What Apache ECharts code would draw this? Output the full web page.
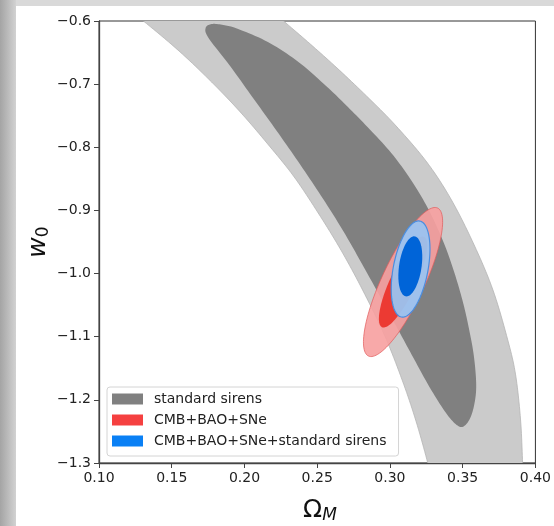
<!DOCTYPE html>
<html><head><meta charset="utf-8">
<script src="https://cdn.jsdelivr.net/npm/echarts@6/dist/echarts.min.js"></script>
<style>html,body{margin:0;padding:0;background:#d9d9d9}#c{width:554px;height:526px}</style>
</head><body><div id="c"></div>
<script>
// ---- data (Omega_M, w0) ----
const xTickValues = [0.10, 0.15, 0.20, 0.25, 0.30, 0.35, 0.40];
const xTickLabels = ['0.10', '0.15', '0.20', '0.25', '0.30', '0.35', '0.40'];
const yTickValues = [-1.3, -1.2, -1.1, -1.0, -0.9, -0.8, -0.7, -0.6];
const yTickLabels = ['\u22121.3', '\u22121.2', '\u22121.1', '\u22121.0', '\u22120.9', '\u22120.8', '\u22120.7', '\u22120.6'];
const legendNames = ['standard sirens', 'CMB+BAO+SNe', 'CMB+BAO+SNe+standard sirens'];

// standard sirens 2-sigma band outline (runs past the axes, clipped)
const sirens2Sigma = [
  [0.1126, -0.5683], [0.1305, -0.6000], [0.1550, -0.6475], [0.1774, -0.6966], [0.1971, -0.7441],
  [0.2154, -0.7932], [0.2337, -0.8455], [0.2507, -0.9041], [0.2663, -0.9627], [0.2812, -1.0260],
  [0.2962, -1.0973], [0.3084, -1.1686], [0.3179, -1.2335], [0.3260, -1.3000], [0.3304, -1.3428],
  [0.3919, -1.3428], [0.3912, -1.3000], [0.3898, -1.2319], [0.3864, -1.1606], [0.3810, -1.1052],
  [0.3708, -1.0260], [0.3579, -0.9548], [0.3423, -0.8835], [0.3253, -0.8233], [0.3036, -0.7647],
  [0.2839, -0.7188], [0.2636, -0.6744], [0.2452, -0.6364], [0.2269, -0.6000], [0.2113, -0.5683]
];
// standard sirens 1-sigma region outline
const sirens1Sigma = [
  [0.1774, -0.6048], [0.1733, -0.6111], [0.1753, -0.6269], [0.1896, -0.6697], [0.2059, -0.7219],
  [0.2222, -0.7742], [0.2385, -0.8281], [0.2541, -0.8819], [0.2683, -0.9342], [0.2812, -0.9864],
  [0.2934, -1.0371], [0.3050, -1.0862], [0.3158, -1.1321], [0.3260, -1.1749], [0.3348, -1.2081],
  [0.3423, -1.2319], [0.3491, -1.2430], [0.3545, -1.2319], [0.3579, -1.2081], [0.3593, -1.1765],
  [0.3576, -1.1290], [0.3538, -1.0815], [0.3498, -1.0419], [0.3437, -0.9943], [0.3362, -0.9468],
  [0.3260, -0.8962], [0.3145, -0.8518], [0.3009, -0.8090], [0.2846, -0.7679], [0.2697, -0.7330],
  [0.2561, -0.7029], [0.2371, -0.6649], [0.2161, -0.6333], [0.1957, -0.6127], [0.1855, -0.6063]
];
// ellipses: [centre Omega_M, centre w0, half major axis dOmega_M, half major axis dw0, minor/major ratio]
const cbs2Sigma = [0.3090, -1.0134, 0.02376, 0.1172, 0.261];
const cbs1Sigma = [0.3090, -1.0134, 0.01449, 0.0715, 0.261];
const all2Sigma = [0.3142, -0.9928, 0.00635, 0.0760, 0.355];
const all1Sigma = [0.3140, -0.9886, 0.00305, 0.0475, 0.37];

// closed Catmull-Rom outline through the given pixel points
function smoothOutline(px) {
  const n = px.length, out = [];
  for (let i = 0; i < n; i++) {
    const p0 = px[(i - 1 + n) % n], p1 = px[i], p2 = px[(i + 1) % n], p3 = px[(i + 2) % n];
    for (let k = 0; k < 10; k++) {
      const t = k / 10, t2 = t * t, t3 = t2 * t;
      out.push([0, 1].map(j => 0.5 * (2 * p1[j] + (-p0[j] + p2[j]) * t +
        (2 * p0[j] - 5 * p1[j] + 4 * p2[j] - p3[j]) * t2 + (-p0[j] + 3 * p1[j] - 3 * p2[j] + p3[j]) * t3)));
    }
  }
  return out;
}
function regionSeries(name, points, fill, stroke) {
  return {
    type: 'custom', name: name, data: points, encode: { x: 0, y: 1 }, silent: true,
    renderItem: function (params, api) {
      if (params.dataIndex !== 0) return null;
      const cs = params.coordSys;
      return {
        type: 'polygon',
        shape: { points: smoothOutline(points.map(p => api.coord(p))) },
        style: { fill: fill, stroke: stroke, lineWidth: stroke ? 0.8 : 0 },
        clipPath: { type: 'rect', shape: { x: cs.x, y: cs.y, width: cs.width, height: cs.height } }
      };
    }
  };
}
function ellipseSeries(name, params5, fill, stroke, lw) {
  return {
    type: 'custom', name: name, data: [params5], encode: { x: 0, y: 1 }, silent: true,
    renderItem: function (params, api) {
      const cx = api.value(0), cy = api.value(1), dx = api.value(2), dy = api.value(3), r = api.value(4);
      const c = api.coord([cx, cy]);
      const e = api.coord([cx + dx, cy + dy]);
      const ux = e[0] - c[0], uy = e[1] - c[1];
      const vx = -uy * r, vy = ux * r;
      const pts = [];
      for (let i = 0; i < 120; i++) {
        const t = i / 120 * 2 * Math.PI;
        pts.push([c[0] + ux * Math.cos(t) + vx * Math.sin(t), c[1] + uy * Math.cos(t) + vy * Math.sin(t)]);
      }
      return { type: 'polygon', shape: { points: pts }, style: { fill: fill, stroke: stroke || null, lineWidth: lw || 0 } };
    }
  };
}

const chart = echarts.init(document.getElementById('c'));
const FONT = 'DejaVu Sans';
chart.setOption({
  animation: false,
  backgroundColor: '#d9d9d9',
  graphic: [
    { type: 'rect', z: -10, shape: { x: 0, y: 0, width: 16, height: 526 },
      style: { fill: new echarts.graphic.LinearGradient(0, 0, 1, 0, [{ offset: 0, color: '#a4a4a4' }, { offset: 1, color: '#d2d2d2' }]) } },
    { type: 'rect', z: -10, shape: { x: 16, y: 6, width: 538, height: 520 }, style: { fill: '#ffffff' } },
    { type: 'text', z: 100, x: 38, y: 242, rotation: Math.PI / 2,
      style: { text: '{w|w}{s|0}', align: 'center', verticalAlign: 'middle',
        rich: { w: { fontFamily: FONT, fontSize: 25, fontStyle: 'italic', fill: '#111', lineHeight: 28 },
                s: { fontFamily: FONT, fontSize: 17, fill: '#111', lineHeight: 17, verticalAlign: 'bottom' } } } },
    { type: 'text', z: 100, x: 320, y: 510,
      style: { text: '{o|\u03A9}{m|M}', align: 'center', verticalAlign: 'middle',
        rich: { o: { fontFamily: FONT, fontSize: 25, fill: '#111', lineHeight: 28 },
                m: { fontFamily: FONT, fontSize: 17, fontStyle: 'italic', fill: '#111', lineHeight: 17, verticalAlign: 'bottom' } } } }
  ],
  grid: { left: 99, top: 21, width: 442, height: 442, show: true, borderColor: '#333', borderWidth: 1, backgroundColor: 'transparent' },
  xAxis: {
    type: 'value', min: 0.10, max: 0.40, interval: 0.05,
    axisLine: { show: true, onZero: false, lineStyle: { color: '#444', width: 1.3 } },
    axisTick: { show: true, length: 5, lineStyle: { color: '#444' } },
    splitLine: { show: false },
    axisLabel: { margin: 8, fontFamily: FONT, fontSize: 14, color: '#222', showMaxLabel: true, showMinLabel: true,
      formatter: v => { const i = xTickValues.findIndex(t => Math.abs(t - v) < 1e-6); return i >= 0 ? xTickLabels[i] : ''; } }
  },
  yAxis: {
    type: 'value', min: -1.3, max: -0.6, interval: 0.1,
    axisLine: { show: true, onZero: false, lineStyle: { color: '#444', width: 1.3 } },
    axisTick: { show: true, length: 5, lineStyle: { color: '#444' } },
    splitLine: { show: false },
    axisLabel: { margin: 8, fontFamily: FONT, fontSize: 14, color: '#222', showMaxLabel: true, showMinLabel: true,
      formatter: v => { const i = yTickValues.findIndex(t => Math.abs(t - v) < 1e-6); return i >= 0 ? yTickLabels[i] : ''; } }
  },
  legend: {
    left: 107, top: 387, orient: 'vertical', itemWidth: 31, itemHeight: 11, itemGap: 7,
    padding: [5, 12, 8, 5], backgroundColor: 'rgba(255,255,255,0.8)', borderColor: '#d4d4d4', borderWidth: 1, borderRadius: 3,
    selectedMode: false, icon: 'rect',
    textStyle: { fontFamily: FONT, fontSize: 14, color: '#222', padding: [0, 0, 0, 6] },
    data: [
      { name: legendNames[0], itemStyle: { color: '#808080' } },
      { name: legendNames[1], itemStyle: { color: '#f54040' } },
      { name: legendNames[2], itemStyle: { color: '#0a80f5' } }
    ]
  },
  series: [
    regionSeries('sirens2', sirens2Sigma, '#cbcbcb', '#b5b5b5'),
    regionSeries(legendNames[0], sirens1Sigma, '#808080', null),
    ellipseSeries('cbs2', cbs2Sigma, 'rgba(247,160,160,0.9)', 'rgba(225,90,90,0.7)', 1),
    ellipseSeries(legendNames[1], cbs1Sigma, '#ec3a33', null, 0),
    ellipseSeries('all2', all2Sigma, 'rgba(155,195,240,0.95)', '#4a8ee0', 1.2),
    ellipseSeries(legendNames[2], all1Sigma, '#0064d8', null, 0)
  ]
});
</script></body></html>
